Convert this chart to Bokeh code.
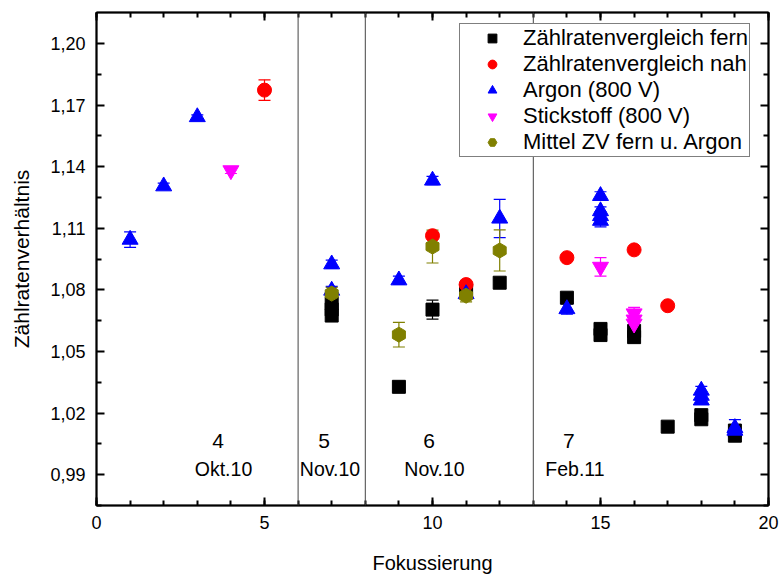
from bokeh.plotting import figure
from bokeh.models import (ColumnDataSource, Whisker, TeeHead, Span, FixedTicker,
                          CustomJSTickFormatter, LinearAxis, Range1d)
from bokeh.core.properties import value
from bokeh.embed import file_html
from bokeh.resources import INLINE

# ---- data ----
fern_x = [7, 7, 7, 9, 10, 11, 12, 14, 15, 15, 16, 16, 17, 18, 18, 19, 19]
fern_y = [1.0735, 1.0705, 1.0675, 1.0328, 1.0704, 1.0796, 1.0835, 1.0762, 1.061, 1.058,
          1.060, 1.057, 1.0134, 1.019, 1.017, 1.0115, 1.009]
fern_e = [0.001, 0.001, 0.001, 0.001, 0.0046, 0.001, 0.001, 0.001, 0.001, 0.001,
          0.001, 0.001, 0.001, 0.001, 0.001, 0.001, 0.001]

nah_x = [5, 10, 11, 14, 16, 17]
nah_y = [1.1773, 1.1064, 1.0826, 1.0957, 1.0995, 1.0723]
nah_e = [0.005, 0.0015, 0.0015, 0.001, 0.001, 0.001]

argon_x = [1, 2, 3, 7, 7, 9, 10, 11, 12, 14, 15, 15, 15, 15, 18, 18, 18, 19, 19]
argon_y = [1.1045, 1.1305, 1.1642, 1.0925, 1.0797, 1.0847, 1.1333, 1.078, 1.1148, 1.0707,
           1.1258, 1.1184, 1.1160, 1.1137, 1.031, 1.0285, 1.0262, 1.0128, 1.0115]
argon_e = [0.0038, 0.0015, 0.001, 0.002, 0.002, 0.002, 0.002, 0.002, 0.0093, 0.0025,
           0.002, 0.002, 0.002, 0.003, 0.002, 0.002, 0.002, 0.004, 0.002]

stick_x = [4, 15, 16, 16, 16]
stick_y = [1.1382, 1.0912, 1.0685, 1.0655, 1.0635]
stick_e = [0.0015, 0.0045, 0.003, 0.002, 0.002]

mittel_x = [7, 9, 10, 11, 12]
mittel_y = [1.0782, 1.0582, 1.1011, 1.0772, 1.0992]
mittel_e = [0.003, 0.006, 0.008, 0.003, 0.010]

separators = [6, 8, 13]
period_num = ["4", "5", "6", "7"]
period_num_x = [3.62, 6.77, 9.9, 14.06]
period_date = ["Okt.10", "Nov.10", "Nov.10", "Feb.11"]
period_date_x = [3.78, 6.95, 10.06, 14.24]
period_num_y = 1.0065
period_date_y = 0.9926

y_ticks = [0.99, 1.02, 1.05, 1.08, 1.11, 1.14, 1.17, 1.20]
y_minor = [0.975, 1.005, 1.035, 1.065, 1.095, 1.125, 1.155, 1.185]
x_ticks = [0, 5, 10, 15, 20]
x_minor = list(range(0, 21))

x_title = "Fokussierung"
y_title = "Zählratenverhältnis"

FONT = "Liberation Sans"

p = figure(width=781, height=579, output_backend="svg", toolbar_location=None,
           x_range=Range1d(0, 20), y_range=Range1d(0.975, 1.2151),
           min_border_left=96, min_border_right=13, min_border_top=12, min_border_bottom=74)
p.xgrid.visible = False
p.ygrid.visible = False
p.outline_line_color = "black"
p.outline_line_width = 1.5
p.background_fill_color = "white"

formatter = CustomJSTickFormatter(code="return tick.toFixed(2).replace('.', ',');")

def style_axis(ax, labels=True):
    ax.axis_line_width = 2
    ax.axis_line_color = "black"
    ax.major_tick_in = 8
    ax.major_tick_out = 0
    ax.minor_tick_in = 5
    ax.minor_tick_out = 0
    ax.major_tick_line_width = 2
    ax.minor_tick_line_width = 2
    ax.major_label_text_font = FONT
    ax.major_label_text_font_size = "18px"
    ax.major_label_text_color = "black"
    ax.axis_label_text_font = FONT
    ax.axis_label_text_font_size = "20px"
    ax.axis_label_text_font_style = "normal"
    ax.axis_label_text_color = "black"
    if not labels:
        ax.major_label_text_font_size = "0px"
        ax.major_label_standoff = 0

p.yaxis.ticker = FixedTicker(ticks=y_ticks, minor_ticks=y_minor)
p.yaxis.formatter = formatter
p.yaxis.axis_label = y_title
p.xaxis.ticker = FixedTicker(ticks=x_ticks, minor_ticks=x_minor)
p.xaxis.axis_label = x_title
style_axis(p.xaxis[0])
style_axis(p.yaxis[0])
p.yaxis.axis_label_text_font_size = "21px"
p.yaxis.major_label_standoff = 11
p.yaxis.axis_label_standoff = 14
p.xaxis.major_label_standoff = 10
p.xaxis.axis_label_standoff = 20

top = LinearAxis(ticker=FixedTicker(ticks=x_ticks, minor_ticks=x_minor))
style_axis(top, labels=False)
p.add_layout(top, "above")
right = LinearAxis(ticker=FixedTicker(ticks=y_ticks, minor_ticks=y_minor))
style_axis(right, labels=False)
p.add_layout(right, "right")

for sx in separators:
    p.add_layout(Span(location=sx, dimension="height", line_color="#444444", line_width=1))

p.text(x=period_num_x, y=[period_num_y] * 4, text=period_num, text_font=value(FONT),
       text_font_size="21px", text_align="center", text_baseline="middle", text_color="black")
p.text(x=period_date_x, y=[period_date_y] * 4, text=period_date, text_font=value(FONT),
       text_font_size="19.5px", text_align="center", text_baseline="middle", text_color="black")

series = [
    ("Zählratenvergleich fern", fern_x, fern_y, fern_e, "black", "square", 13, 0),
    ("Zählratenvergleich nah", nah_x, nah_y, nah_e, "red", "circle", 14, 0),
    ("Argon (800 V)", argon_x, argon_y, argon_e, "blue", "triangle", 16, 0),
    ("Stickstoff (800 V)", stick_x, stick_y, stick_e, "magenta", "inverted_triangle", 16, 0),
    ("Mittel ZV fern u. Argon", mittel_x, mittel_y, mittel_e, "#808000", "hex", 15, 0.5236),
]

for name, xs, ys, es, col, marker, size, ang in series:
    src = ColumnDataSource(dict(x=xs, y=ys, lo=[a - b for a, b in zip(ys, es)],
                                hi=[a + b for a, b in zip(ys, es)]))
    w = Whisker(source=src, base="x", lower="lo", upper="hi", line_color=col, line_width=1.2,
                upper_head=TeeHead(size=12, line_color=col, line_width=1.2),
                lower_head=TeeHead(size=12, line_color=col, line_width=1.2))
    p.add_layout(w)
    p.scatter("x", "y", source=src, marker=marker, size=size, angle=ang,
              fill_color=col, line_color=col, legend_label=name)

lg = p.legend[0]
lg.location = (363, 348)
lg.margin = 0
lg.padding = 1
lg.spacing = 0
lg.glyph_width = 62
lg.glyph_height = 22
lg.label_height = 22
lg.label_standoff = 0
lg.label_text_font = FONT
lg.label_text_font_size = "22px"
lg.label_text_color = "black"
lg.border_line_color = "black"
lg.border_line_width = 1
lg.background_fill_alpha = 1.0

open("out.html", "w").write(file_html(p, INLINE))
